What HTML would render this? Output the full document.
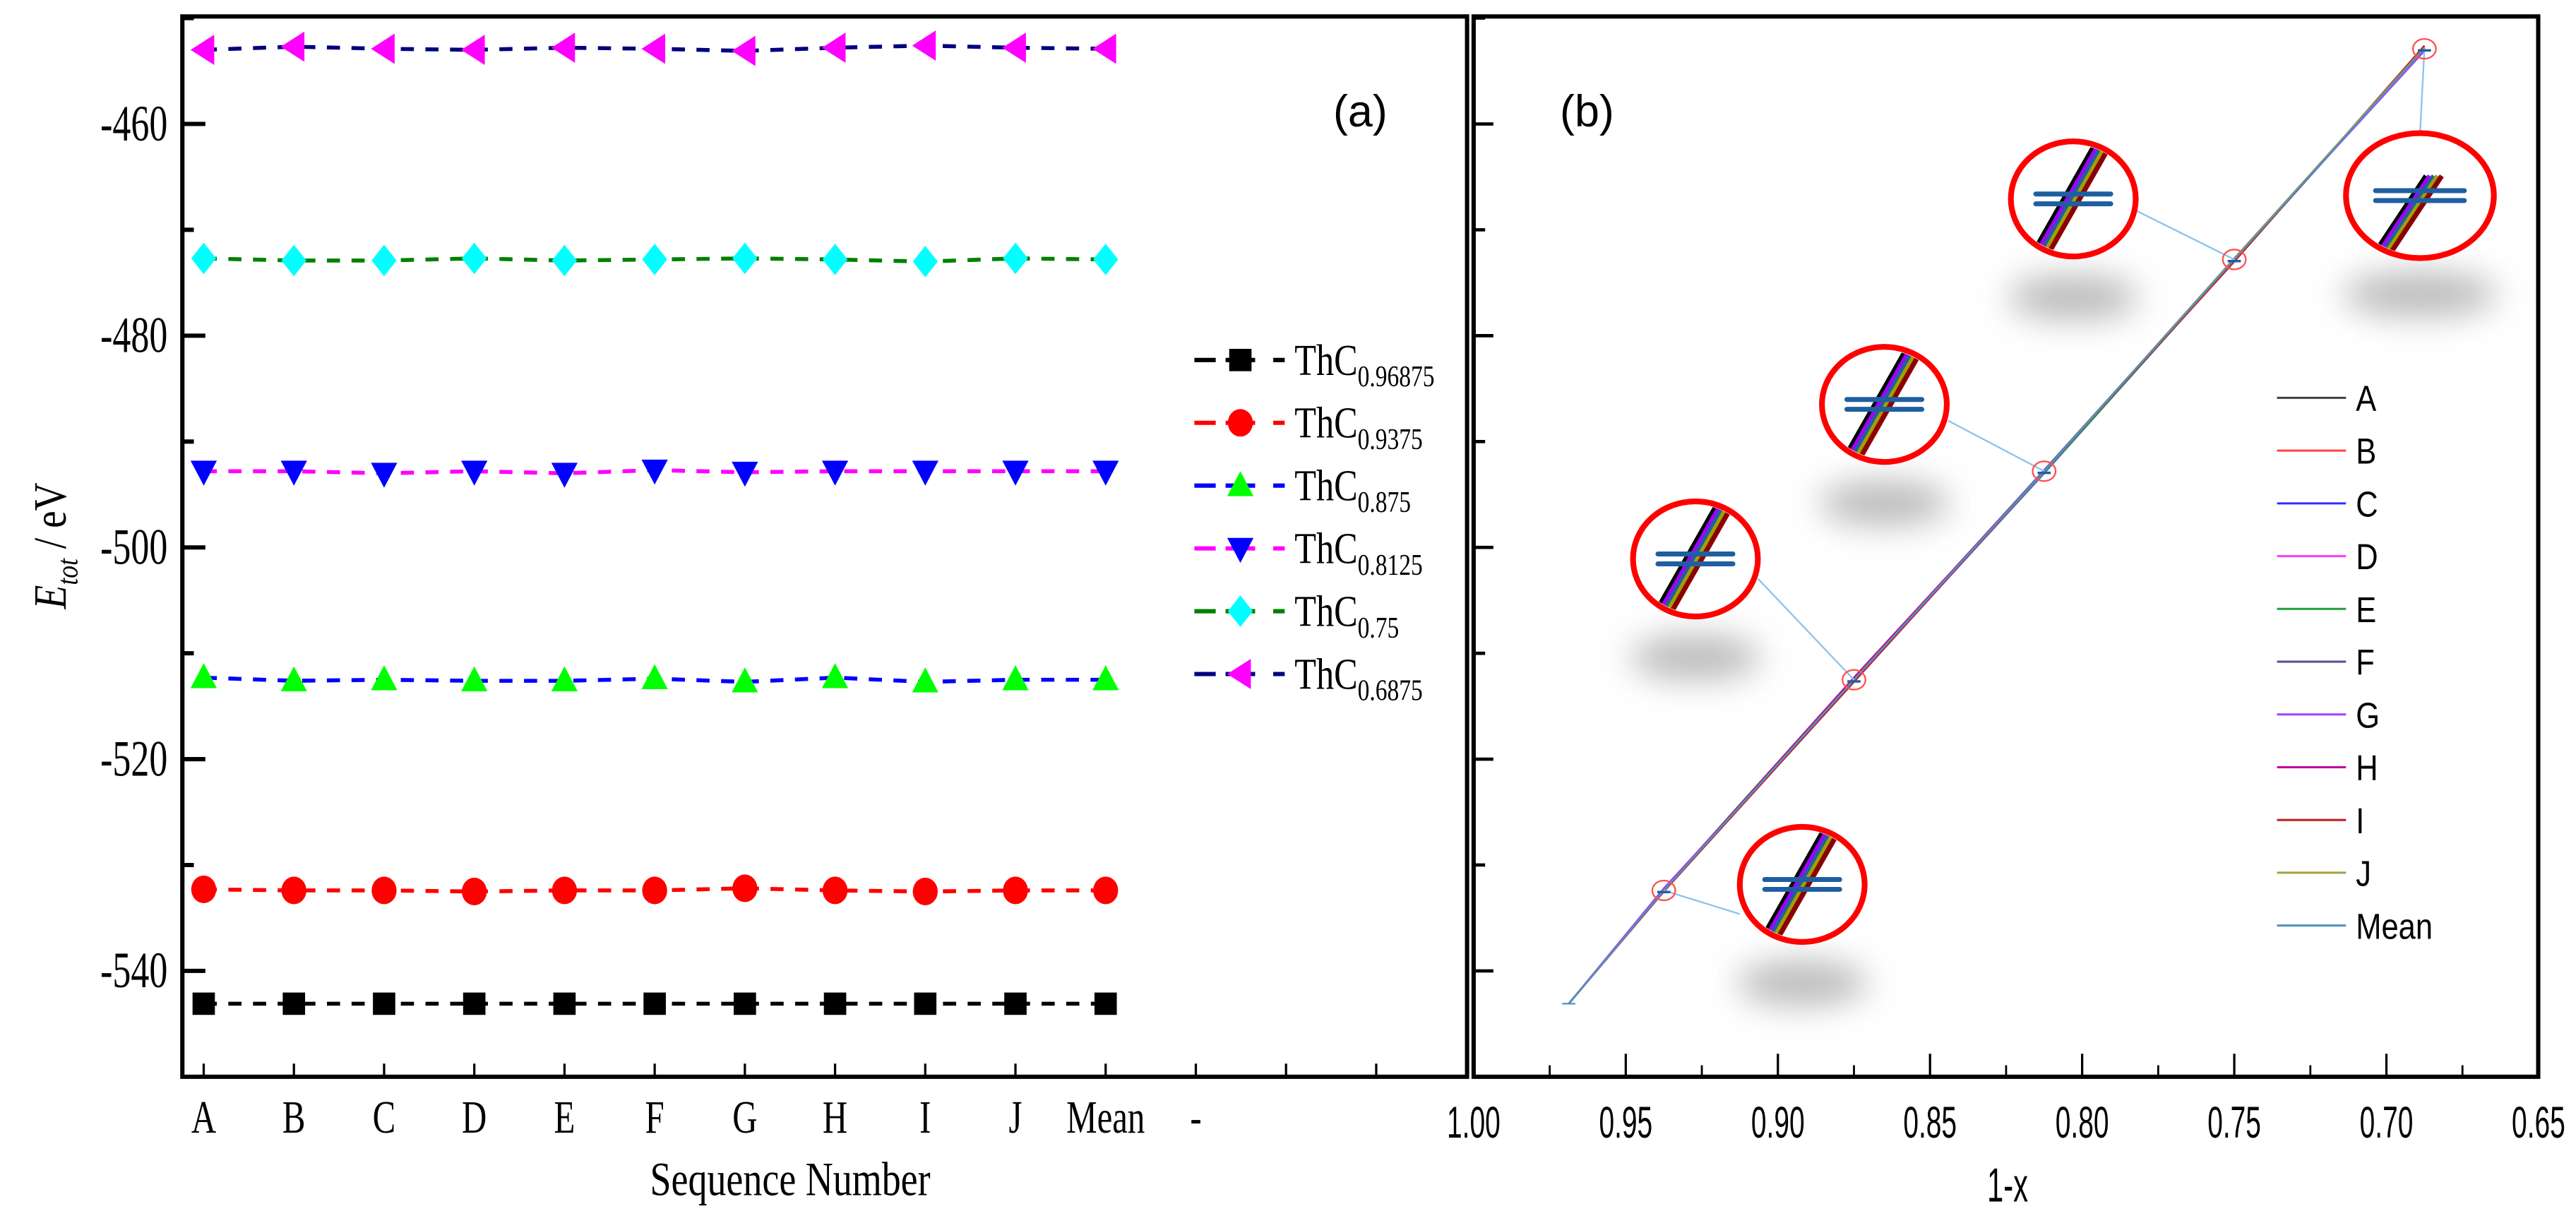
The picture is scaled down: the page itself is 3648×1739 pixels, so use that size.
<!DOCTYPE html>
<html><head><meta charset="utf-8">
<style>
html,body{margin:0;padding:0;background:#fff;}
svg{display:block;}
.serif{font-family:"Liberation Serif",serif;}
.sans{font-family:"Liberation Sans",sans-serif;}
</style></head>
<body>
<svg id="fig" xmlns="http://www.w3.org/2000/svg" width="3648" height="1739" viewBox="0 0 1568 747" preserveAspectRatio="none">
<defs>
<filter id="blur" x="-60%" y="-150%" width="220%" height="400%"><feGaussianBlur stdDeviation="10"/></filter>
</defs>
<g id="panelA"></g>
<g id="panelB"></g>
</svg>
<script>
// ---------- data ----------
const categories = ["A","B","C","D","E","F","G","H","I","J","Mean"];
const seriesNames = ["0.96875","0.9375","0.875","0.8125","0.75","0.6875"];
const compositions = [0.96875,0.9375,0.875,0.8125,0.75,0.6875];
const valsS1 = [-543.1,-543.1,-543.1,-543.1,-543.1,-543.1,-543.1,-543.1,-543.1,-543.1,-543.1];
const valsS2 = [-532.3,-532.4,-532.4,-532.5,-532.4,-532.4,-532.2,-532.4,-532.5,-532.4,-532.4];
const valsS3 = [-512.3,-512.6,-512.5,-512.6,-512.6,-512.4,-512.7,-512.3,-512.7,-512.5,-512.5];
const valsS4 = [-492.8,-492.8,-493.0,-492.8,-493.0,-492.7,-492.9,-492.8,-492.8,-492.8,-492.8];
const valsS5 = [-472.7,-472.9,-472.9,-472.7,-472.9,-472.8,-472.7,-472.8,-473.0,-472.7,-472.8];
const valsS6 = [-453.0,-452.7,-452.9,-453.0,-452.8,-452.9,-453.1,-452.8,-452.6,-452.8,-452.9];
const yTicks = [-460,-480,-500,-520,-540];
const xTicksB = ["1.00","0.95","0.90","0.85","0.80","0.75","0.70","0.65"];
const xTickValsB = [1.00,0.95,0.90,0.85,0.80,0.75,0.70,0.65];

const allVals = [valsS1,valsS2,valsS3,valsS4,valsS5,valsS6];
const NS="http://www.w3.org/2000/svg";
function mk(tag,attrs,parent){const e=document.createElementNS(NS,tag);for(const k in attrs)e.setAttribute(k,attrs[k]);if(parent)parent.appendChild(e);return e;}

const yScale = v => 655 - (v + 550) * 6.44;
const xA = i => 124 + i * 54.9;
const xB = v => 897 + (1.0 - v) / 0.05 * 92.6;

// ---------- panel A ----------
const A = document.getElementById('panelA');
let fr = mk('rect',{x:111,y:10,width:782,height:645,fill:'none',stroke:'#000','stroke-width':2.6},A);


for(const t of yTicks){
  let l=mk('line',{x1:111,x2:125,y1:yScale(t),y2:yScale(t),stroke:'#000','stroke-width':2.6},A);
  
  
  let m=mk('line',{x1:111,x2:118,y1:yScale(t+10),y2:yScale(t+10),stroke:'#000','stroke-width':2.6},A);
  
  
  let tx=mk('text',{x:102,y:yScale(t)+10,'text-anchor':'end','font-size':31,class:'serif',transform:`translate(102 0) scale(0.72 1) translate(-102 0)`},A);
  tx.textContent=String(t);
  
  
}
const xLabels = categories.concat(["-"]);
for(let i=0;i<14;i++){
  let l=mk('line',{x1:xA(i),x2:xA(i),y1:655,y2:647,stroke:'#000','stroke-width':1.4},A);
  
  
}
xLabels.forEach((c,i)=>{
  let tx=mk('text',{x:xA(i),y:689,'text-anchor':'middle','font-size':28,class:'serif',transform:`translate(${xA(i)} 0) scale(0.75 1) translate(${-xA(i)} 0)`},A);
  tx.textContent=c;
  
  
});
{let tx=mk('text',{x:481,y:727,'text-anchor':'middle','font-size':29,class:'serif',transform:'translate(481 0) scale(0.8 1) translate(-481 0)'},A);
tx.textContent='Sequence Number';

}
{let tx=mk('text',{x:0,y:0,'text-anchor':'middle','font-size':28,class:'serif',transform:'translate(40 332) rotate(-90) scale(0.85 1)'},A);
tx.innerHTML='<tspan font-style="italic">E</tspan><tspan font-style="italic" font-size="18" dy="7">tot</tspan><tspan dy="-7"> / eV</tspan>';

}
{let tx=mk('text',{x:828,y:77,'text-anchor':'middle','font-size':27,class:'sans'},A);
tx.textContent='(a)';

}

const lineColors=['#000','#ff0000','#0000ff','#ff00ff','#008000','#000080'];
const markColors=['#000','#ff0000','#00ff00','#0000ff','#00ffff','#ff00ff'];
const shapes=['square','circle','up','down','diamond','left'];
function marker(shape,cx,cy,col,parent,s){
  s=s||8;
  let e;
  if(shape==='square') e=mk('rect',{x:cx-s*0.85,y:cy-s*0.85,width:s*1.7,height:s*1.7,fill:col},parent);
  else if(shape==='circle') e=mk('ellipse',{cx:cx,cy:cy,rx:s*0.95,ry:s*1.05,fill:col},parent);
  else if(shape==='up') e=mk('polygon',{points:`${cx},${cy-s*1.1} ${cx-s},${cy+s*0.8} ${cx+s},${cy+s*0.8}`,fill:col},parent);
  else if(shape==='down') e=mk('polygon',{points:`${cx},${cy+s*1.1} ${cx-s},${cy-s*0.8} ${cx+s},${cy-s*0.8}`,fill:col},parent);
  else if(shape==='diamond') e=mk('polygon',{points:`${cx},${cy-s*1.2} ${cx+s*0.95},${cy} ${cx},${cy+s*1.2} ${cx-s*0.95},${cy}`,fill:col},parent);
  else e=mk('polygon',{points:`${cx-s*1.0},${cy} ${cx+s*0.8},${cy-s*1.15} ${cx+s*0.8},${cy+s*1.15}`,fill:col},parent);
  return e;
}
allVals.forEach((vals,s)=>{
  const g=mk('g',{},A);
  
  
  const pts=vals.map((v,i)=>`${xA(i)},${yScale(v)}`).join(' ');
  let pl=mk('polyline',{points:pts,fill:'none',stroke:lineColors[s],'stroke-width':2.4,'stroke-dasharray':'8 7'},g);
  
  
  vals.forEach((v,i)=>{
    let m=marker(shapes[s],xA(i),yScale(v),markColors[s],g);
    
    
  });
});
const legA=mk('g',{},A);


seriesNames.forEach((n,s)=>{
  const y=219+s*38.2;
  const g=mk('g',{},legA);
  
  
  mk('line',{x1:727,x2:740,y1:y,y2:y,stroke:lineColors[s],'stroke-width':2.6},g);
  mk('line',{x1:746,x2:764,y1:y,y2:y,stroke:lineColors[s],'stroke-width':2.6},g);
  mk('line',{x1:775,x2:782,y1:y,y2:y,stroke:lineColors[s],'stroke-width':2.6},g);
  marker(shapes[s],755,y,markColors[s],g,8);
  const t=mk('text',{x:788,y:y+9,'font-size':27,class:'serif',transform:'translate(788 0) scale(0.8 1) translate(-788 0)'},g);
  t.innerHTML='ThC<tspan font-size="18" dy="7">'+n+'</tspan>';
});

// ---------- panel B ----------
const B=document.getElementById('panelB');
{let r=mk('rect',{x:897,y:10,width:648,height:645,fill:'none',stroke:'#000','stroke-width':2.6},B);

}
for(const t of yTicks){
  let l=mk('line',{x1:897,x2:909,y1:yScale(t),y2:yScale(t),stroke:'#000','stroke-width':2},B);
  
  
  let m=mk('line',{x1:897,x2:904,y1:yScale(t+10),y2:yScale(t+10),stroke:'#000','stroke-width':2},B);
  
  
}
xTickValsB.forEach((v,i)=>{
  let l=mk('line',{x1:xB(v),x2:xB(v),y1:655,y2:641,stroke:'#000','stroke-width':1.4},B);
  
  
  if(i<xTickValsB.length-1){
    let m=mk('line',{x1:xB(v-0.025),x2:xB(v-0.025),y1:655,y2:648,stroke:'#000','stroke-width':1.2},B);
    
    
  }
  let tx=mk('text',{x:xB(v),y:692,'text-anchor':'middle','font-size':27,class:'sans',transform:`translate(${xB(v)} 0) scale(0.62 1) translate(${-xB(v)} 0)`},B);
  tx.textContent=xTicksB[i];
  
  
});
{let tx=mk('text',{x:1222,y:731,'text-anchor':'middle','font-size':29,class:'sans',transform:'translate(1222 0) scale(0.62 1) translate(-1222 0)'},B);
tx.textContent='1-x';

}
{let tx=mk('text',{x:966,y:77,'text-anchor':'middle','font-size':27,class:'sans'},B);
tx.textContent='(b)';

}

const bColors=['#404040','#ff4040','#3030ff','#ff40ff','#20a040','#505090','#a040ff','#c000a0','#c02020','#a0a040','#5090c0'];
const insets=[
  {p:5,cx:1473,cy:119,rx:45,ry:38,ax:1473,ay:82},
  {p:4,cx:1262,cy:121,rx:38,ry:35,ax:1300,ay:128},
  {p:3,cx:1147,cy:246,rx:38,ry:35,ax:1186,ay:256},
  {p:2,cx:1032,cy:340,rx:38,ry:35,ax:1070,ay:352},
  {p:1,cx:1097,cy:538,rx:38,ry:35,ax:1059,ay:556}
];
insets.forEach(s=>{
  let sh=mk('ellipse',{cx:s.cx,cy:s.cy+60,rx:s.rx*1.05,ry:14,fill:'#b0b0b0',filter:'url(#blur)',opacity:0.85},B);
  
  
});
categories.forEach((c,j)=>{
  const pts=compositions.map((x,s)=>`${xB(x)},${yScale(allVals[s][j])}`).join(' ');
  let pl=mk('polyline',{points:pts,fill:'none',stroke:bColors[j],'stroke-width':1.1},B);
  
  
});
insets.forEach(s=>{
  const px=xB(compositions[s.p]), py=yScale(allVals[s.p][10]);
  let c=mk('line',{x1:px,y1:py,x2:s.ax,y2:s.ay,stroke:'#8ec3ea','stroke-width':1},B);
  
  
  let ci=mk('ellipse',{cx:px,cy:py,rx:7,ry:6,fill:'none',stroke:'#ff5050','stroke-width':1},B);
  
  
  mk('line',{x1:px-4,x2:px+4,y1:py+1,y2:py+1,stroke:'#1f60a0','stroke-width':1.5},B);
});
{const px=xB(compositions[0]),py=yScale(allVals[0][10]);mk('line',{x1:px-4,x2:px+4,y1:py,y2:py,stroke:'#5090c0','stroke-width':1},B);}
const insetCols=['#000','#a000ff','#1f5fa0','#a0a000','#8b0000'];
insets.forEach((s,k)=>{
  const g=mk('g',{},B);
  
  
  mk('ellipse',{cx:s.cx,cy:s.cy,rx:s.rx,ry:s.ry,fill:'#fff'},g);
  const cid='clip'+k;
  const cp=mk('clipPath',{id:cid},g);
  mk('ellipse',{cx:s.cx,cy:s.cy,rx:s.rx-2,ry:s.ry-2},cp);
  const inner=mk('g',{'clip-path':`url(#${cid})`},g);
  const top = k===0 ? -12 : -s.ry;
  insetCols.forEach((col,i)=>{
    const off=(i-2)*2.4;
    mk('line',{x1:s.cx-s.rx*0.55+off,y1:s.cy+s.ry,x2:s.cx+s.rx*0.5+off+(k===0?-14:0),y2:s.cy+top,stroke:col,'stroke-width':3},inner);
  });
  mk('line',{x1:s.cx-s.rx*0.6,x2:s.cx+s.rx*0.6,y1:s.cy-3,y2:s.cy-3,stroke:'#1f5fa0','stroke-width':3,'stroke-linecap':'round'},g);
  mk('line',{x1:s.cx-s.rx*0.6,x2:s.cx+s.rx*0.6,y1:s.cy+3,y2:s.cy+3,stroke:'#1f5fa0','stroke-width':3,'stroke-linecap':'round'},g);
  mk('ellipse',{cx:s.cx,cy:s.cy,rx:s.rx,ry:s.ry,fill:'none',stroke:'#ff0000','stroke-width':3.5},g);
});
const legB=mk('g',{},B);


categories.forEach((c,j)=>{
  const y=242+j*32.1;
  const g=mk('g',{},legB);
  
  
  mk('line',{x1:1386,x2:1428,y1:y,y2:y,stroke:bColors[j],'stroke-width':1.3},g);
  const t=mk('text',{x:1434,y:y+8,'font-size':22,class:'sans',transform:'translate(1434 0) scale(0.85 1) translate(-1434 0)'},g);
  t.textContent=c;
});
</script>
</body></html>
